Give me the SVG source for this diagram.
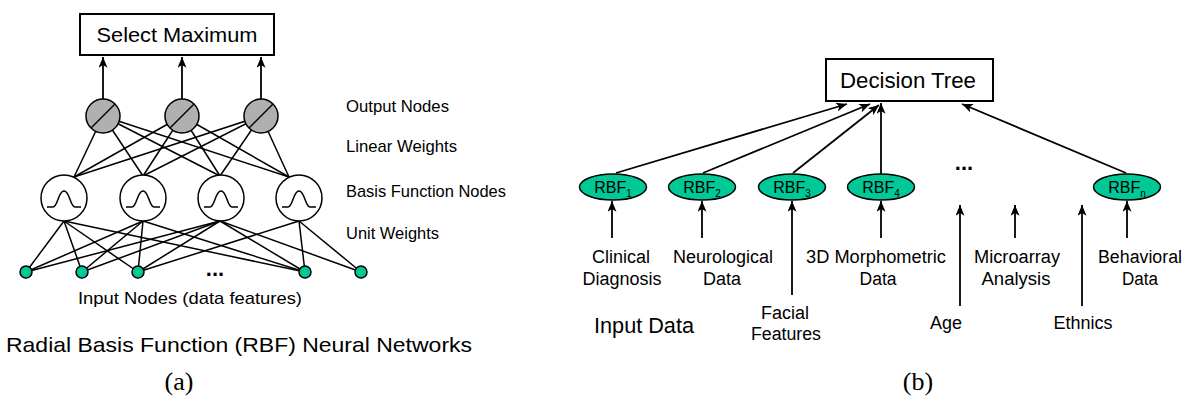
<svg xmlns="http://www.w3.org/2000/svg" width="1190" height="398" viewBox="0 0 1190 398">
<style>
text{font-family:"Liberation Sans",Arial,sans-serif;fill:#000}
.ln{stroke:#000;stroke-width:1.5;fill:none}
.arr{stroke:#000;stroke-width:1.8;fill:none;marker-end:url(#ah)}
.box{fill:#fff;stroke:#000;stroke-width:2}
.out{fill:#b0b0b0;stroke:#000;stroke-width:1.5}
.bas{fill:#fff;stroke:#000;stroke-width:1.5}
.inp{fill:#00c896;stroke:#000;stroke-width:1.5}
.rbf{fill:#00c896;stroke:#000;stroke-width:1.5}
.lbl{font-size:17px}
.lb{font-size:18px;text-anchor:middle}
.rt{font-size:16px;text-anchor:middle}
.sub{font-size:10px}
.cap{font-family:"Liberation Serif","Times New Roman",serif;font-size:26px;text-anchor:middle}
</style>
<defs>
<marker id="ah" viewBox="0 0 12 10" refX="12" refY="5" markerWidth="11" markerHeight="9" orient="auto" markerUnits="userSpaceOnUse">
<path d="M0,0 L12,5 L0,10 L3,5 Z" fill="#000"/>
</marker>
<path id="gauss" d="M-17,9 L-11,9 C-6,9 -6,-7 0,-7 C6,-7 6,9 11,9 L17,9" fill="none" stroke="#000" stroke-width="1.5"/>
</defs>

<g id="connectors">
<!-- (a) output to select maximum -->
<line class="arr" x1="103" y1="99" x2="103" y2="57"/>
<line class="arr" x1="182" y1="99" x2="182" y2="57"/>
<line class="arr" x1="261" y1="99" x2="261" y2="57"/>
<!-- (a) output to basis -->
<g class="ln">
<line x1="103" y1="116" x2="74" y2="177"/>
<line x1="103" y1="116" x2="143" y2="176"/>
<line x1="103" y1="116" x2="220" y2="176"/>
<line x1="103" y1="116" x2="289" y2="177"/>
<line x1="182" y1="116" x2="74" y2="177"/>
<line x1="182" y1="116" x2="143" y2="176"/>
<line x1="182" y1="116" x2="220" y2="176"/>
<line x1="182" y1="116" x2="289" y2="177"/>
<line x1="261" y1="116" x2="74" y2="177"/>
<line x1="261" y1="116" x2="143" y2="176"/>
<line x1="261" y1="116" x2="220" y2="176"/>
<line x1="261" y1="116" x2="289" y2="177"/>
</g>
<!-- (a) basis to inputs -->
<g class="ln">
<line x1="64" y1="221" x2="26" y2="272"/>
<line x1="64" y1="221" x2="82" y2="272"/>
<line x1="64" y1="221" x2="138" y2="272"/>
<line x1="64" y1="221" x2="305" y2="272"/>
<line x1="143" y1="221" x2="26" y2="272"/>
<line x1="143" y1="221" x2="82" y2="272"/>
<line x1="143" y1="221" x2="138" y2="272"/>
<line x1="143" y1="221" x2="305" y2="272"/>
<line x1="220" y1="221" x2="26" y2="272"/>
<line x1="220" y1="221" x2="82" y2="272"/>
<line x1="220" y1="221" x2="138" y2="272"/>
<line x1="220" y1="221" x2="305" y2="272"/>
<line x1="220" y1="221" x2="361" y2="272"/>
<line x1="299" y1="221" x2="138" y2="272"/>
<line x1="299" y1="221" x2="305" y2="272"/>
<line x1="299" y1="221" x2="361" y2="272"/>
</g>
<!-- (b) RBF to decision tree -->
<line class="arr" x1="616" y1="173" x2="847" y2="104"/>
<line class="arr" x1="703" y1="173" x2="870" y2="104"/>
<line class="arr" x1="793" y1="173" x2="879" y2="105"/>
<line class="arr" x1="881" y1="174" x2="881" y2="103"/>
<line class="arr" x1="1126" y1="173" x2="962" y2="104"/>
<!-- (b) inputs to RBF -->
<line class="arr" x1="612" y1="238" x2="612" y2="201"/>
<line class="arr" x1="702" y1="238" x2="702" y2="201"/>
<line class="arr" x1="792" y1="295" x2="792" y2="201"/>
<line class="arr" x1="881" y1="238" x2="881" y2="201"/>
<line class="arr" x1="960" y1="306" x2="960" y2="205"/>
<line class="arr" x1="1015" y1="238" x2="1015" y2="205"/>
<line class="arr" x1="1082" y1="306" x2="1082" y2="205"/>
<line class="arr" x1="1127" y1="238" x2="1127" y2="201"/>
</g>

<!-- (a) nodes -->
<g id="select-maximum">
<rect class="box" x="80" y="14" width="194" height="41"/>
<text x="177" y="42" font-size="20" text-anchor="middle" textLength="161" lengthAdjust="spacingAndGlyphs">Select Maximum</text>
</g>
<g id="out1"><circle class="out" cx="103" cy="116" r="17"/><line class="ln" x1="91" y1="128" x2="115" y2="104"/></g>
<g id="out2"><circle class="out" cx="182" cy="116" r="17"/><line class="ln" x1="170" y1="128" x2="194" y2="104"/></g>
<g id="out3"><circle class="out" cx="261" cy="116" r="17"/><line class="ln" x1="249" y1="128" x2="273" y2="104"/></g>
<g id="basis1"><circle class="bas" cx="64" cy="198" r="23"/><use href="#gauss" x="64" y="198"/></g>
<g id="basis2"><circle class="bas" cx="143" cy="198" r="23"/><use href="#gauss" x="143" y="198"/></g>
<g id="basis3"><circle class="bas" cx="221" cy="198" r="23"/><use href="#gauss" x="221" y="198"/></g>
<g id="basis4"><circle class="bas" cx="299" cy="198" r="23"/><use href="#gauss" x="299" y="198"/></g>
<g id="in1"><circle class="inp" cx="26" cy="272" r="6"/></g>
<g id="in2"><circle class="inp" cx="82" cy="272" r="6"/></g>
<g id="in3"><circle class="inp" cx="138" cy="272" r="6"/></g>
<g id="in4"><circle class="inp" cx="305" cy="272" r="6"/></g>
<g id="in5"><circle class="inp" cx="361" cy="272" r="6"/></g>
<text x="215" y="276" font-size="22" font-weight="bold" text-anchor="middle">...</text>

<g id="labels-a">
<text class="lbl" x="346" y="112" textLength="103" lengthAdjust="spacingAndGlyphs">Output Nodes</text>
<text class="lbl" x="346" y="152" textLength="111" lengthAdjust="spacingAndGlyphs">Linear Weights</text>
<text class="lbl" x="346" y="197" textLength="160" lengthAdjust="spacingAndGlyphs">Basis Function Nodes</text>
<text class="lbl" x="346" y="239" textLength="93" lengthAdjust="spacingAndGlyphs">Unit Weights</text>
<text x="190" y="304" font-size="17" text-anchor="middle" textLength="224" lengthAdjust="spacingAndGlyphs">Input Nodes (data features)</text>
<text x="239" y="352" font-size="21" text-anchor="middle" textLength="466" lengthAdjust="spacingAndGlyphs">Radial Basis Function (RBF) Neural Networks</text>
<text class="cap" x="179" y="390">(a)</text>
</g>

<!-- (b) nodes -->
<g id="decision-tree">
<rect class="box" x="826" y="59" width="167" height="42"/>
<text x="908" y="88" font-size="22" text-anchor="middle" textLength="136" lengthAdjust="spacingAndGlyphs">Decision Tree</text>
</g>
<g id="rbf1"><ellipse class="rbf" cx="613" cy="187" rx="33.5" ry="13"/><text class="rt" x="613" y="193">RBF<tspan class="sub" dy="4">1</tspan></text></g>
<g id="rbf2"><ellipse class="rbf" cx="702" cy="187" rx="33.5" ry="13"/><text class="rt" x="702" y="193">RBF<tspan class="sub" dy="4">2</tspan></text></g>
<g id="rbf3"><ellipse class="rbf" cx="792" cy="187" rx="33.5" ry="13"/><text class="rt" x="792" y="193">RBF<tspan class="sub" dy="4">3</tspan></text></g>
<g id="rbf4"><ellipse class="rbf" cx="881" cy="187" rx="33.5" ry="13"/><text class="rt" x="881" y="193">RBF<tspan class="sub" dy="4">4</tspan></text></g>
<g id="rbfn"><ellipse class="rbf" cx="1127" cy="187" rx="33.5" ry="13"/><text class="rt" x="1127" y="193">RBF<tspan class="sub" dy="4">n</tspan></text></g>
<text x="964" y="170" font-size="22" font-weight="bold" text-anchor="middle">...</text>

<g id="labels-b">
<text class="lb" x="621" y="263" textLength="58" lengthAdjust="spacingAndGlyphs">Clinical</text>
<text class="lb" x="622" y="285" textLength="79" lengthAdjust="spacingAndGlyphs">Diagnosis</text>
<text class="lb" x="723" y="263" textLength="100" lengthAdjust="spacingAndGlyphs">Neurological</text>
<text class="lb" x="722" y="285" textLength="38" lengthAdjust="spacingAndGlyphs">Data</text>
<text class="lb" x="876" y="263" textLength="140" lengthAdjust="spacingAndGlyphs">3D Morphometric</text>
<text class="lb" x="878" y="285" textLength="37" lengthAdjust="spacingAndGlyphs">Data</text>
<text class="lb" x="1017" y="263" textLength="86" lengthAdjust="spacingAndGlyphs">Microarray</text>
<text class="lb" x="1016" y="285" textLength="69" lengthAdjust="spacingAndGlyphs">Analysis</text>
<text class="lb" x="1140" y="263" textLength="84" lengthAdjust="spacingAndGlyphs">Behavioral</text>
<text class="lb" x="1140" y="285" textLength="36" lengthAdjust="spacingAndGlyphs">Data</text>
<text class="lb" x="785" y="319" textLength="48" lengthAdjust="spacingAndGlyphs">Facial</text>
<text class="lb" x="786" y="340" textLength="70" lengthAdjust="spacingAndGlyphs">Features</text>
<text x="644" y="333" font-size="22" text-anchor="middle" textLength="100" lengthAdjust="spacingAndGlyphs">Input Data</text>
<text class="lb" x="946" y="329" textLength="32" lengthAdjust="spacingAndGlyphs">Age</text>
<text class="lb" x="1083" y="329" textLength="59" lengthAdjust="spacingAndGlyphs">Ethnics</text>
<text class="cap" x="918" y="390">(b)</text>
</g>
</svg>
